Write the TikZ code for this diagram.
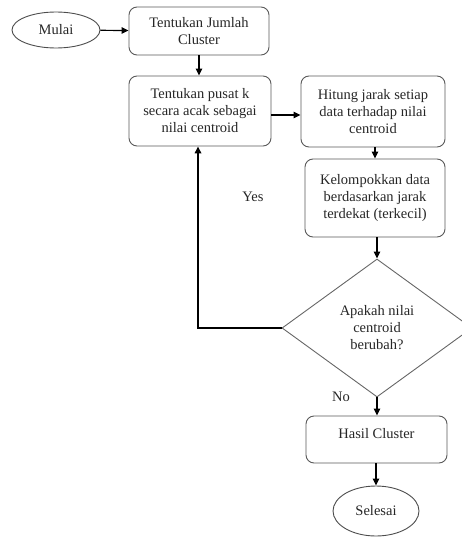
\documentclass[tikz,border=0pt]{standalone}
\usepackage{fontspec}
\setmainfont{Liberation Serif}
\usetikzlibrary{shapes.geometric,arrows.meta}
\begin{document}
\begin{tikzpicture}[x=1pt,y=-1pt,
  every node/.style={font=\fontsize{14.5}{17}\selectfont, text=black!85},
  procbox/.style={draw=black!65, line width=0.9pt, rounded corners=8pt, align=center, inner sep=2pt},
  term/.style={draw=black!70, line width=0.9pt, ellipse, inner sep=0pt},
  decision/.style={draw=black!60, line width=0.9pt, diamond, aspect=1.38, inner sep=0pt, align=center, minimum width=190pt, minimum height=138pt},
  arr/.style={draw=black, line width=1.2pt, -{Triangle[length=7pt,width=6.5pt]}},
  lbl/.style={inner sep=0pt}
]
\useasboundingbox (0,0) rectangle (462,538);
\clip (0,0) rectangle (462,538);
\node[term, minimum width=88pt, minimum height=36pt] (mulai) at (56,30) {Mulai};
\node[procbox, minimum width=140pt, minimum height=48pt] (b1) at (199,31) {Tentukan Jumlah\\Cluster};
\node[procbox, minimum width=142pt, minimum height=70pt] (b2) at (200,111) {Tentukan pusat k\\secara acak sebagai\\nilai centroid};
\node[procbox, minimum width=144pt, minimum height=71pt] (b3) at (373,111.5) {Hitung jarak setiap\\data terhadap nilai\\centroid};
\node[procbox, minimum width=140pt, minimum height=78pt] (b4) at (375,198) {Kelompokkan data\\berdasarkan jarak\\terdekat (terkecil)};
\node[decision] (d) at (377,328) {Apakah nilai\\centroid\\berubah?};
\node[procbox, minimum width=141pt, inner ysep=4pt, text height=18pt, text depth=21pt] (hasil) at (376.5,439.5) {Hasil Cluster};
\node[term, minimum width=86pt, minimum height=50pt] (selesai) at (376,511) {Selesai};
\coordinate (fb) at (198,328);
\draw[arr] (mulai) -- (b1);
\draw[arr] (b1.south -| 199,0) -- (b2.north -| 199,0);
\draw[arr] (b2.east |- 0,115) -- (b3.west |- 0,115);
\draw[arr] (b3.south -| 375,0) -- (b4.north -| 375,0);
\draw[arr] (b4.south -| 377,0) -- (d.north);
\draw[arr, line width=1.6pt] (d.west) -- (fb) -- (b2.south -| fb);
\draw[arr] (d.south) -- (hasil.north -| d.south);
\draw[arr] (hasil.south -| 376,0) -- (selesai.north);
\node[lbl] (yes) at (253,197) {Yes};
\node[lbl] (no) at (341,397) {No};
\end{tikzpicture}
\end{document}
